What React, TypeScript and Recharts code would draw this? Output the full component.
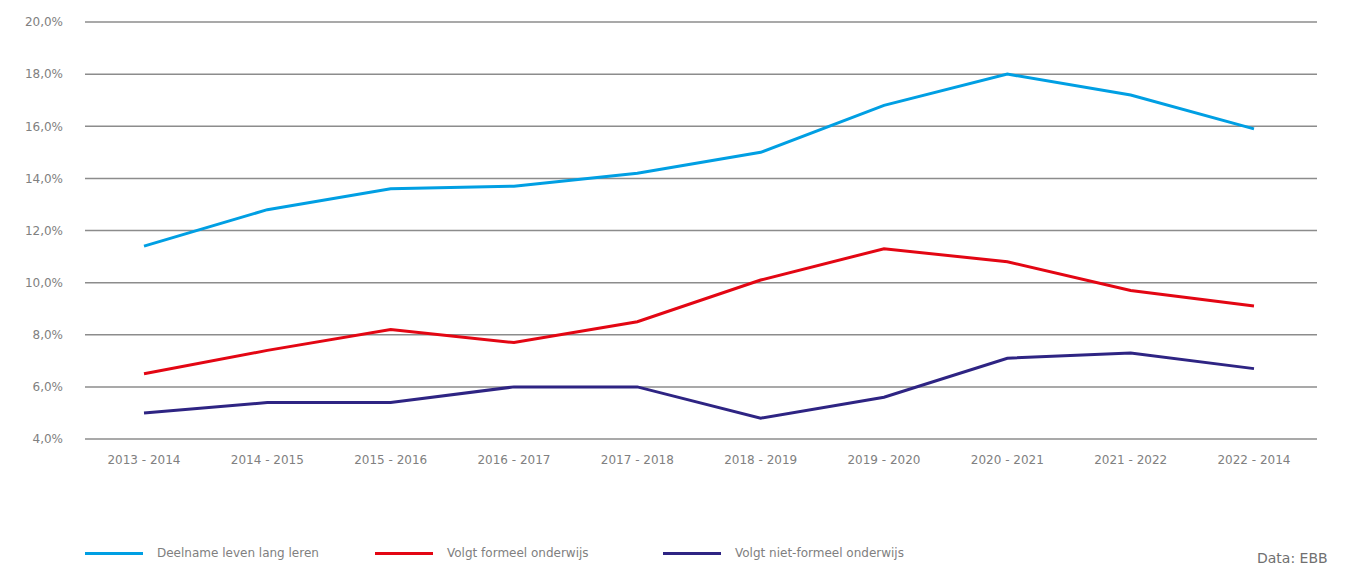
import { CartesianGrid, Line, LineChart, XAxis, YAxis } from 'recharts';

const years = [
  '2013 - 2014',
  '2014 - 2015',
  '2015 - 2016',
  '2016 - 2017',
  '2017 - 2018',
  '2018 - 2019',
  '2019 - 2020',
  '2020 - 2021',
  '2021 - 2022',
  '2022 - 2014',
];

const levenLangLeren = [11.4, 12.8, 13.6, 13.7, 14.2, 15.0, 16.8, 18.0, 17.2, 15.9];
const formeel = [6.5, 7.4, 8.2, 7.7, 8.5, 10.1, 11.3, 10.8, 9.7, 9.1];
const nietFormeel = [5.0, 5.4, 5.4, 6.0, 6.0, 4.8, 5.6, 7.1, 7.3, 6.7];

const yTicks = [4, 6, 8, 10, 12, 14, 16, 18, 20];

const series = [
  { key: 'leven', name: 'Deelname leven lang leren', values: levenLangLeren, color: '#009fe3' },
  { key: 'formeel', name: 'Volgt formeel onderwijs', values: formeel, color: '#e30613' },
  { key: 'nietFormeel', name: 'Volgt niet-formeel onderwijs', values: nietFormeel, color: '#2e2483' },
];

const data = years.map((year, i) => {
  const row: Record<string, string | number> = { year };
  series.forEach((s) => {
    row[s.key] = s.values[i];
  });
  return row;
});

const font = 'DejaVu Sans, Verdana, sans-serif';
const legendX = [77, 367, 655];

export default function App() {
  return (
    <div style={{ position: 'relative', width: 1341, height: 557, fontFamily: font }}>
      <LineChart
        width={1341}
        height={557}
        data={data}
        margin={{ top: 14, right: 32, bottom: 96, left: 17 }}
      >
        <CartesianGrid vertical={false} stroke="#8c8c8c" strokeWidth={1.5} />
        <XAxis
          dataKey="year"
          axisLine={false}
          tickLine={false}
          tickSize={0}
          tickMargin={16}
          height={30}
          padding={{ left: 59, right: 63 }}
          tick={{ fill: '#808080', fontSize: 12, fontFamily: font }}
          interval={0}
        />
        <YAxis
          domain={[4, 20]}
          ticks={yTicks}
          width={60}
          axisLine={false}
          tickLine={false}
          tickSize={0}
          tickMargin={22}
          tickFormatter={(v: number) => `${v.toFixed(1).replace('.', ',')}%`}
          tick={{ fill: '#808080', fontSize: 12, fontFamily: font }}
        />
        {series.map((s) => (
          <Line
            key={s.key}
            dataKey={s.key}
            name={s.name}
            stroke={s.color}
            strokeWidth={3}
            dot={false}
            activeDot={false}
            isAnimationActive={false}
          />
        ))}
      </LineChart>
      {series.map((s, i) => (
        <div
          key={s.key}
          style={{
            position: 'absolute',
            left: legendX[i],
            top: 538,
            display: 'flex',
            alignItems: 'center',
            fontSize: 12,
            color: '#808080',
            whiteSpace: 'nowrap',
          }}
        >
          <span
            style={{ display: 'inline-block', width: 58, height: 3, background: s.color, marginRight: 14 }}
          />
          {s.name}
        </div>
      ))}
      <div
        style={{
          position: 'absolute',
          left: 1249,
          top: 542,
          fontSize: 14,
          color: '#707070',
          whiteSpace: 'nowrap',
        }}
      >
        Data: EBB
      </div>
    </div>
  );
}
